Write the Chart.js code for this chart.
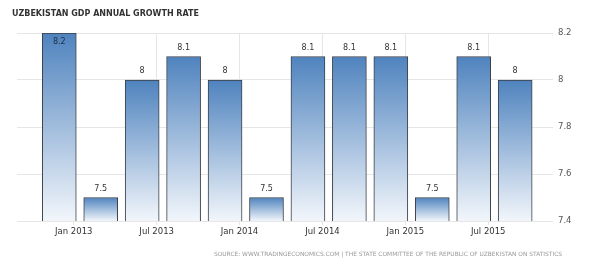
<!DOCTYPE html>
<html>
<head>
<meta charset="utf-8">
<script src="https://cdn.jsdelivr.net/npm/chart.js@4.4.1/dist/chart.umd.min.js"></script>
<style>
  html, body { margin: 0; padding: 0; background: #fff; }
  #wrap { width: 599px; height: 265px; position: relative; }
</style>
</head>
<body>
<div id="wrap"><canvas id="canvas" width="599" height="265"></canvas></div>
<script>
// quarterly GDP growth, Q1 2013 .. Q4 2015
const quarters = ['Q1 2013', 'Q2 2013', 'Q3 2013', 'Q4 2013', 'Q1 2014', 'Q2 2014',
                  'Q3 2014', 'Q4 2014', 'Q1 2015', 'Q2 2015', 'Q3 2015', 'Q4 2015'];
const growth = [8.2, 7.5, 8, 8.1, 8, 7.5, 8.1, 8.1, 8.1, 7.5, 8.1, 8];
const tickLabels = ['Jan 2013', 'Jul 2013', 'Jan 2014', 'Jul 2014', 'Jan 2015', 'Jul 2015'];
const yTicks = [7.4, 7.6, 7.8, 8, 8.2];

const TITLE = 'UZBEKISTAN GDP ANNUAL GROWTH RATE';
const SOURCE = 'SOURCE: WWW.TRADINGECONOMICS.COM | THE STATE COMMITTEE OF THE REPUBLIC OF UZBEKISTAN ON STATISTICS';

// bar i sits at x = i, month labels sit a bit to the right of every other bar
const points = growth.map((v, i) => ({ x: i, y: v }));
const tickPos = tickLabels.map((t, i) => i * 2 + 0.35);

function barGradient(ctx) {
  const chart = ctx.chart;
  const area = chart.chartArea;
  if (!area || !ctx.parsed) return '#5587c0';
  const top = chart.scales.y.getPixelForValue(ctx.parsed.y);
  const g = chart.ctx.createLinearGradient(0, top, 0, area.bottom);
  g.addColorStop(0, '#4f83be');
  g.addColorStop(1, '#f2f6fb');
  return g;
}

const textPlugin = {
  id: 'texts',
  afterDatasetsDraw(chart) {
    const c = chart.ctx;
    const meta = chart.getDatasetMeta(0);
    c.save();
    c.font = '8px "DejaVu Sans"';
    c.textAlign = 'center';
    c.textBaseline = 'middle';
    meta.data.forEach((bar, i) => {
      const v = growth[i];
      let y = bar.y - 9;
      c.fillStyle = '#333';
      if (y < chart.chartArea.top + 2) {
        y = bar.y + 9;
        c.fillStyle = '#1f2f44';
      }
      c.fillText(String(v), bar.x, y);
    });
    c.restore();
  },
  afterDraw(chart) {
    const c = chart.ctx;
    c.save();
    c.textBaseline = 'middle';
    c.fillStyle = '#333';
    c.font = 'bold 8px "DejaVu Sans"';
    c.textAlign = 'left';
    c.fillText(TITLE, 12, 14);
    c.fillStyle = '#999';
    c.font = '5.9px "DejaVu Sans"';
    c.textAlign = 'right';
    c.fillText(SOURCE, 562, 254);
    c.restore();
  }
};

new Chart(document.getElementById('canvas'), {
  type: 'bar',
  data: {
    datasets: [{
      label: 'GDP Annual Growth Rate',
      data: points,
      backgroundColor: barGradient,
      borderColor: '#3a3f46',
      borderWidth: 1,
      borderSkipped: false,
      barThickness: 34
    }]
  },
  options: {
    responsive: false,
    animation: false,
    layout: { padding: { left: 17, top: 33, right: 0, bottom: 0 } },
    plugins: {
      legend: { display: false },
      tooltip: { enabled: false }
    },
    scales: {
      x: {
        type: 'linear',
        offset: false,
        min: -1.02,
        max: 11.72,
        afterFit: s => { s.height = 44; },
        afterBuildTicks: s => { s.ticks = tickPos.map(v => ({ value: v })); },
        grid: { color: '#e6e6e6', tickLength: 4, drawTicks: true, offset: false },
        border: { display: false },
        ticks: {
          autoSkip: false,
          maxRotation: 0,
          padding: 2,
          color: '#333',
          font: { family: '"DejaVu Sans"', size: 8.5 },
          callback: (v, i) => tickLabels[i]
        }
      },
      y: {
        position: 'right',
        min: 7.4,
        max: 8.2,
        afterFit: s => { s.width = 54; },
        afterBuildTicks: s => { s.ticks = yTicks.map(v => ({ value: v })); },
        grid: { color: '#e6e6e6', tickLength: 8 },
        border: { display: false },
        ticks: {
          padding: 5,
          color: '#555',
          font: { family: '"DejaVu Sans"', size: 8.5 },
          callback: v => String(Math.round(v * 10) / 10)
        }
      }
    }
  },
  plugins: [textPlugin]
});
</script>
</body>
</html>
